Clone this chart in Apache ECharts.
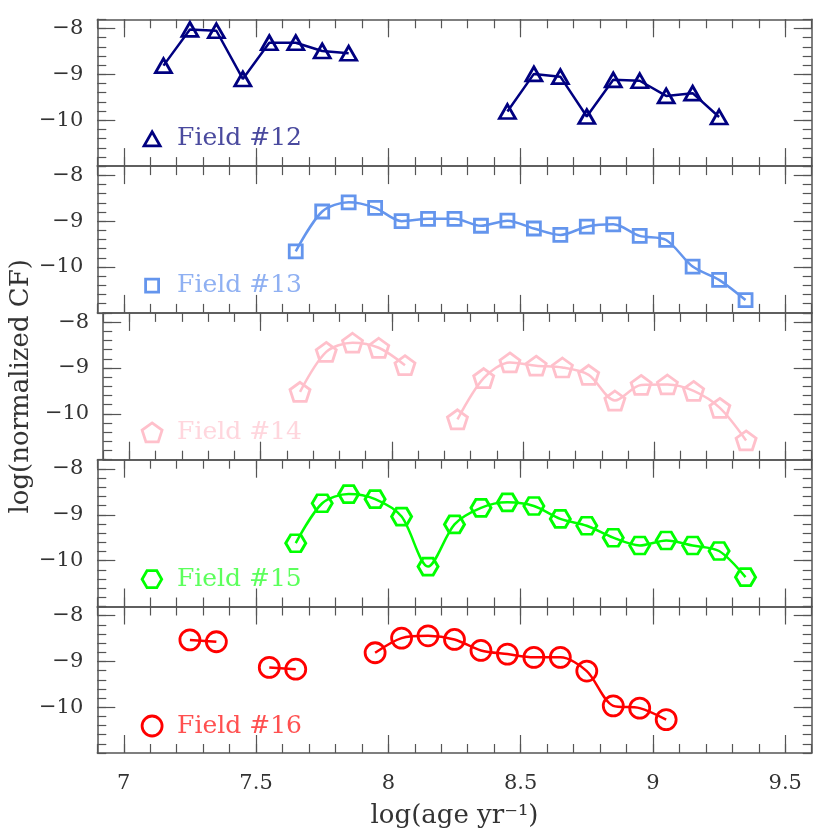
<!DOCTYPE html>
<html>
<head>
<meta charset="utf-8">
<script src="https://cdn.jsdelivr.net/npm/echarts@6/dist/echarts.min.js"></script>
<style>
html, body { margin: 0; padding: 0; background: #fff; }
#chart { width: 830px; height: 830px; }
</style>
</head>
<body>
<div id="chart"></div>
<script>
// log(age) bins shared by all fields
var ages = [7.15, 7.25, 7.35, 7.45, 7.55, 7.65, 7.75, 7.85, 7.95, 8.05, 8.15, 8.25,
            8.35, 8.45, 8.55, 8.65, 8.75, 8.85, 8.95, 9.05, 9.15, 9.25, 9.35];
// log(normalized CF), null = no point
var field12 = [-8.81, -8.02, -8.05, -9.10, -8.31, -8.31, -8.49, -8.54, null, null, null, null,
               null, -9.81, -8.99, -9.05, -9.92, -9.12, -9.14, -9.47, -9.41, -9.93, null];
var field13 = [null, null, null, null, null, -9.66, -8.79, -8.59, -8.71, -9.00, -8.95, -8.95,
               -9.10, -8.99, -9.16, -9.30, -9.12, -9.07, -9.32, -9.41, -9.99, -10.28, -10.72];
var field14 = [null, null, null, null, null, -9.52, -8.65, -8.45, -8.56, -8.94, null, -10.12,
               -9.22, -8.88, -8.95, -8.99, -9.15, -9.71, -9.37, -9.36, -9.50, -9.87, -10.58];
var field15 = [null, null, null, null, null, -9.62, -8.75, -8.55, -8.66, -9.04, -10.13, -9.21,
               -8.85, -8.73, -8.81, -9.09, -9.24, -9.50, -9.67, -9.56, -9.67, -9.79, -10.36];
var field16 = [null, -8.53, -8.57, null, -9.13, -9.17, null, null, -8.81, -8.49, -8.44, -8.52,
               -8.76, -8.84, -8.91, -8.91, -9.21, -9.97, -10.02, -10.27, null, null, null];

var fieldNames = ['Field #12', 'Field #13', 'Field #14', 'Field #15', 'Field #16'];
var fieldData = [field12, field13, field14, field15, field16];
var colors = ['#000080', '#6495ed', '#ffc0cb', '#00ff00', '#ff0000'];
var textColors = ['#4a4a9e', '#8fb0f2', '#ffd6dd', '#5cff5c', '#ff5050'];

var xMajor = [7, 7.5, 8, 8.5, 9, 9.5];
var yMajor = [-10, -9, -8];

var symbols = [
    'triangle',
    'rect',
    'path://M0,-1L0.951,-0.309L0.588,0.809L-0.588,0.809L-0.951,-0.309Z',
    'path://M-1,0L-0.5,-0.866L0.5,-0.866L1,0L0.5,0.866L-0.5,0.866Z',
    'circle'
];
var symbolSizes = [[16, 14], 13, [20, 19], [20, 17], 20];
var smoothness = [0, 0.3, 0.3, 0.3, 0.3];

var font = 'DejaVu Serif';
var axisColor = '#555';
var plotLeft = 97.3, plotW = 714.4, top0 = 19.3, panelH = 146.8;

var grids = [], xAxes = [], yAxes = [], series = [], legends = [];

function xAxisDef(i, pos, major, showLine) {
    var ax = {
        gridIndex: i, type: 'value', min: 6.9, max: 9.6, position: pos,
        axisLine: {show: showLine, onZero: false, lineStyle: {color: axisColor, width: 1.5}},
        axisTick: {show: true, inside: true, length: major ? 18 : 9, lineStyle: {color: axisColor, width: 1.2}},
        axisLabel: {show: false},
        splitLine: {show: false}
    };
    if (major) {
        ax.axisTick.customValues = xMajor;
        ax.axisLabel.customValues = xMajor;
    } else {
        ax.interval = 0.1;
    }
    return ax;
}

function yAxisDef(i, pos, major, showLine) {
    var ax = {
        gridIndex: i, type: 'value', min: -11, max: -7.8, position: pos,
        axisLine: {show: showLine, onZero: false, lineStyle: {color: axisColor, width: 1.5}},
        axisTick: {show: true, inside: true, length: major ? 18 : 9, lineStyle: {color: axisColor, width: 1.2}},
        axisLabel: {show: false},
        splitLine: {show: false}
    };
    if (major) {
        ax.axisTick.customValues = yMajor;
        ax.axisLabel.customValues = yMajor;
    } else {
        ax.interval = 0.2;
    }
    return ax;
}

for (var i = 0; i < 5; i++) {
    var panelTop = top0 + i * panelH;
    grids.push({left: plotLeft, top: panelTop, width: plotW, height: panelH});

    // 0: bottom minor, 1: top minor, 2: bottom major, 3: top major
    xAxes.push(xAxisDef(i, 'bottom', false, true));
    xAxes.push(xAxisDef(i, 'top', false, true));
    var xb = xAxisDef(i, 'bottom', true, false);
    if (i == 4) {
        xb.axisLabel = {
            show: true, customValues: xMajor, margin: 20,
            color: '#333', fontFamily: font, fontSize: 21,
            formatter: function (v) { return String(v); }
        };
        xb.name = 'log(age yr\u207b\u00b9)';
        xb.nameLocation = 'middle';
        xb.nameGap = 50;
        xb.nameTextStyle = {color: '#333', fontFamily: font, fontSize: 26};
    }
    xAxes.push(xb);
    xAxes.push(xAxisDef(i, 'top', true, false));

    yAxes.push(yAxisDef(i, 'left', false, true));
    yAxes.push(yAxisDef(i, 'right', false, true));
    var yl = yAxisDef(i, 'left', true, false);
    yl.axisLabel = {
        show: true, customValues: yMajor, margin: 14,
        color: '#333', fontFamily: font, fontSize: 21,
        formatter: function (v) { return '\u2212' + Math.abs(v); }
    };
    if (i == 2) {
        yl.name = 'log(normalized CF)';
        yl.nameLocation = 'middle';
        yl.nameGap = 66;
        yl.nameTextStyle = {color: '#333', fontFamily: font, fontSize: 26};
    }
    yAxes.push(yl);
    yAxes.push(yAxisDef(i, 'right', true, false));

    var vals = fieldData[i];
    var pts = [];
    for (var k = 0; k < ages.length; k++) {
        pts.push([ages[k], vals[k]]);
    }
    series.push({
        name: fieldNames[i],
        type: 'line',
        xAxisIndex: i * 4,
        yAxisIndex: i * 4,
        data: pts,
        connectNulls: false,
        smooth: smoothness[i],
        symbol: symbols[i],
        symbolSize: symbolSizes[i],
        showAllSymbol: true,
        itemStyle: {color: 'rgba(0,0,0,0)', borderColor: colors[i], borderWidth: 2.8},
        lineStyle: {color: colors[i], width: 2.5},
        emphasis: {disabled: true}
    });

    var sz = symbolSizes[i];
    var iw = Array.isArray(sz) ? sz[0] : sz;
    var ih = Array.isArray(sz) ? sz[1] : sz;
    legends.push({
        left: 150.7 - iw / 2 - 5,
        top: panelTop + 120 - 5 - 13,
        itemWidth: iw,
        itemHeight: ih,
        selectedMode: false,
        data: [{
            name: fieldNames[i],
            icon: symbols[i],
            itemStyle: {color: 'rgba(0,0,0,0)', borderColor: colors[i], borderWidth: 2.8}
        }],
        textStyle: {
            color: textColors[i], fontFamily: font, fontSize: 25,
            padding: [16, 0, 0, 20 - iw / 2]
        }
    });
}

var chart = echarts.init(document.getElementById('chart'));
chart.setOption({
    animation: false,
    backgroundColor: '#fff',
    grid: grids,
    xAxis: xAxes,
    yAxis: yAxes,
    legend: legends,
    series: series
});
</script>
</body>
</html>
